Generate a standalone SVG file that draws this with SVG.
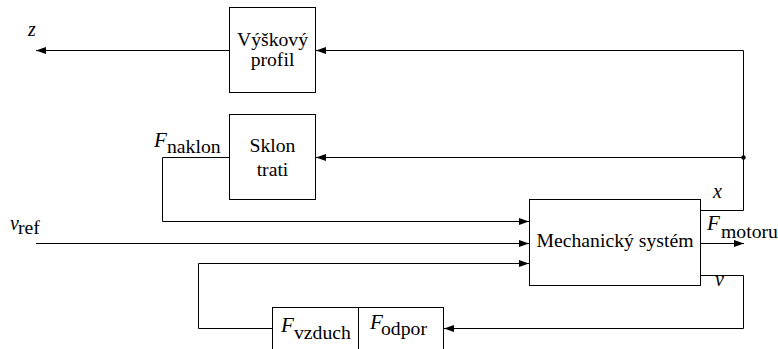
<svg xmlns="http://www.w3.org/2000/svg" width="778" height="349" viewBox="0 0 778 349">
<style>
.box{fill:#fff;stroke:#000;stroke-width:1}
.ln{fill:none;stroke:#000;stroke-width:1}
.t{font-family:"Liberation Serif","Times New Roman",serif;font-size:19.7px;fill:#000}
.c{text-anchor:middle}
.i{font-family:"Liberation Serif","Times New Roman",serif;font-style:italic;font-size:20px;fill:#000}
.F{font-family:"Liberation Serif","Times New Roman",serif;font-style:italic;font-size:21px;fill:#000}
</style>
<defs>
<marker id="ah" markerUnits="userSpaceOnUse" markerWidth="10" markerHeight="8" refX="10" refY="4" orient="auto">
<path d="M0,0.5 L10,4 L0,7.5 z" fill="#000"/>
</marker>
</defs>
<rect width="778" height="349" fill="#fff"/>
<g id="connectors">
<path class="ln" d="M229.5,50.5 H36" marker-end="url(#ah)"/>
<path class="ln" d="M701,210.5 H743.5 V50.5 H316" marker-end="url(#ah)"/>
<path class="ln" d="M743.5,157.5 H316" marker-end="url(#ah)"/>
<circle cx="743.5" cy="157.5" r="2.2" fill="#000"/>
<path class="ln" d="M229.5,157.5 H162.5 V221.5 H529" marker-end="url(#ah)"/>
<path class="ln" d="M36,243.5 H529" marker-end="url(#ah)"/>
<path class="ln" d="M272.5,328.5 H198.5 V263.5 H529" marker-end="url(#ah)"/>
<path class="ln" d="M701,243.5 H744" marker-end="url(#ah)"/>
<path class="ln" d="M701,275.5 H743.5 V328.5 H444" marker-end="url(#ah)"/>
</g>
<g id="vyskovy_profil">
<rect class="box" x="229.5" y="7.5" width="86" height="85"/>
<text class="t c" x="272.5" y="46">Výškový</text>
<text class="t c" x="272.5" y="66">profil</text>
</g>
<g id="sklon_trati">
<rect class="box" x="229.5" y="114.5" width="86" height="85"/>
<text class="t c" x="272.5" y="152">Sklon</text>
<text class="t c" x="272.5" y="176">trati</text>
</g>
<g id="mechanicky_system">
<rect class="box" x="529.5" y="199.5" width="171" height="86"/>
<text class="t c" x="615" y="247">Mechanický systém</text>
</g>
<g id="odpor">
<rect class="box" x="272.5" y="307.5" width="171" height="60"/>
<line class="ln" x1="358.5" y1="307.5" x2="358.5" y2="349"/>
<text class="F" x="281" y="332">F</text>
<text class="t" x="294" y="339">vzduch</text>
<text class="F" x="370" y="329">F</text>
<text class="t" x="381" y="335">odpor</text>
</g>
<g id="labels">
<text class="i" x="28" y="36">z</text>
<text class="i" x="10" y="230">v</text>
<text class="t" x="18" y="234">ref</text>
<text class="F" x="154" y="147">F</text>
<text class="t" x="167" y="153">naklon</text>
<text class="i" x="713" y="198">x</text>
<text class="F" x="707" y="230">F</text>
<text class="t" x="721" y="238">motoru</text>
<text class="i" x="715" y="286">v</text>
</g>
</svg>
